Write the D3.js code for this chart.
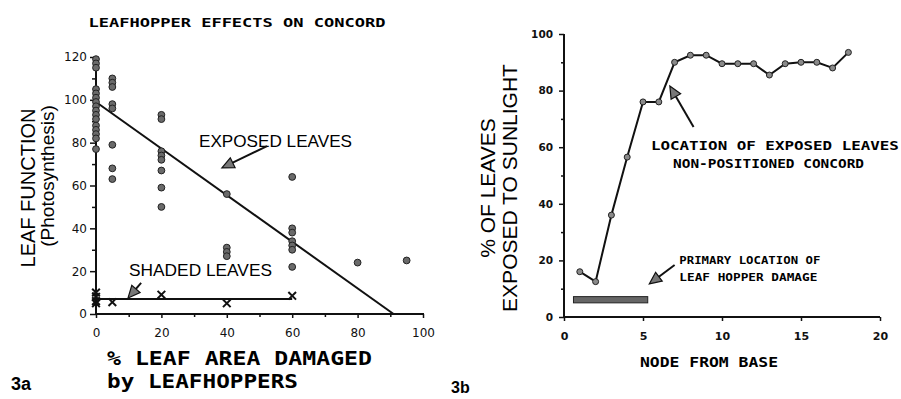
<!DOCTYPE html>
<html>
<head>
<meta charset="utf-8">
<script src="https://cdn.jsdelivr.net/npm/d3@7"></script>
<style>
  body { margin: 0; background: #fff; }
  svg { display: block; }
  .tick line { stroke: #111; stroke-width: 1.5px; }
  .domain { display: none; }
</style>
</head>
<body>
<svg id="chart" width="901" height="399"></svg>
<script>
// ---- fig 3a: leaf function vs % leaf area damaged ----
const exposedDamage = [
    0, 0, 0, 0, 0, 0, 0, 0, 0, 0, 0, 0, 0, 0, 0, 0,
    5, 5, 5, 5, 5, 5, 5, 5,
    20, 20, 20, 20, 20, 20, 20, 20,
    40, 40, 40, 40,
    60, 60, 60, 60, 60, 60, 60,
    80, 95
];
const exposedFunction = [
    119, 117, 115, 105, 103, 101, 99, 97, 95, 93, 91, 88, 86, 84, 82, 77,
    110, 108, 106, 98, 96, 79, 68, 63,
    93, 91, 76, 74, 72, 67, 59, 50,
    56, 31, 29, 27,
    64, 40, 38, 34, 32, 30, 22,
    24, 25
];
const shadedDamage = [0, 0, 0, 0, 5, 20, 40, 60];
const shadedFunction = [10, 8, 6, 5, 5.5, 9, 5, 8.5];
const exposedFit = [[0, 99], [91, 0]];
const shadedFit = [[0, 7], [60, 7]];
const damageTicks = [0, 20, 40, 60, 80, 100];
const functionTicks = [0, 20, 40, 60, 80, 100, 120];

// ---- fig 3b: % leaves exposed vs node ----
const nodes = [1, 2, 3, 4, 5, 6, 7, 8, 9, 10, 11, 12, 13, 14, 15, 16, 17, 18];
const exposedPct = [16, 12.5, 36, 56.5, 76, 76, 90, 92.5, 92.5, 89.5, 89.5, 89.5, 85.5, 89.5, 90, 90, 88, 93.5];
const damageZone = [0.6, 5.3];
const damageZoneLevel = [5, 7.2];
const nodeTicks = [0, 5, 10, 15, 20];
const pctTicks = [0, 20, 40, 60, 80, 100];

const svg = d3.select('#chart');
svg.append('rect').attr('width', 901).attr('height', 399).attr('fill', '#fff');

const monoFont = '"DejaVu Sans Mono", monospace';
const sansFont = '"Liberation Sans", Arial, sans-serif';

// arrow with filled head, tail/tip given in data space
function drawArrow(g, xs, ys, tail, tip) {
    let x1 = xs(tail[0]), y1 = ys(tail[1]),
        x2 = xs(tip[0]), y2 = ys(tip[1]),
        ang = Math.atan2(y2 - y1, x2 - x1),
        len = 12, half = 5.5,
        bx = x2 - len * Math.cos(ang), by = y2 - len * Math.sin(ang);
    g.append('line')
        .attr('x1', x1).attr('y1', y1).attr('x2', bx).attr('y2', by)
        .attr('stroke', '#111').attr('stroke-width', 2);
    g.append('path')
        .attr('d', `M${x2},${y2}L${bx + half * Math.sin(ang)},${by - half * Math.cos(ang)}` +
            `L${bx - half * Math.sin(ang)},${by + half * Math.cos(ang)}Z`)
        .attr('fill', '#777').attr('stroke', '#111').attr('stroke-width', 1.2);
}

function styleTicks(sel, font, size, weight) {
    sel.selectAll('text')
        .attr('font-family', font)
        .attr('font-size', size)
        .attr('font-weight', weight)
        .attr('fill', '#111');
}

// ================= 3a =================
(function () {
    let x = d3.scaleLinear().domain([0, 100]).range([96, 423]),
        y = d3.scaleLinear().domain([0, 120]).range([314, 57]),
        g = svg.append('g');

    // minor ticks
    g.append('g').attr('transform', 'translate(0,314)')
        .call(d3.axisBottom(x).tickValues([10, 30, 50, 70, 90]).tickSize(3).tickFormat(''));
    g.append('g').attr('transform', 'translate(96,0)')
        .call(d3.axisLeft(y).tickValues([10, 30, 50, 70, 90, 110]).tickSize(4).tickFormat(''));

    let xAxis = g.append('g').attr('transform', 'translate(0,314)')
        .call(d3.axisBottom(x).tickValues(damageTicks).tickSize(4).tickPadding(10));
    styleTicks(xAxis, '"DejaVu Sans", sans-serif', 12, 'normal');

    let yAxis = g.append('g').attr('transform', 'translate(96,0)')
        .call(d3.axisLeft(y).tickValues(functionTicks).tickSize(6).tickPadding(3));
    styleTicks(yAxis, '"DejaVu Sans", sans-serif', 12, 'normal');

    // axis lines
    g.append('line').attr('x1', x(0)).attr('x2', x(100) + 1).attr('y1', y(0)).attr('y2', y(0))
        .attr('stroke', '#111').attr('stroke-width', 2);
    g.append('line').attr('x1', x(0)).attr('x2', x(0)).attr('y1', y(0)).attr('y2', y(120))
        .attr('stroke', '#111').attr('stroke-width', 2);

    let line = d3.line().x(d => x(d[0])).y(d => y(d[1]));
    g.append('path').attr('d', line(exposedFit))
        .attr('fill', 'none').attr('stroke', '#111').attr('stroke-width', 2);
    g.append('path').attr('d', line(shadedFit))
        .attr('fill', 'none').attr('stroke', '#111').attr('stroke-width', 2);

    g.selectAll('.exposed')
        .data(exposedDamage)
        .enter()
        .append('circle')
        .attr('class', 'exposed')
        .attr('cx', d => x(d))
        .attr('cy', (d, i) => y(exposedFunction[i]))
        .attr('r', 3.4)
        .attr('fill', '#6a6a6a')
        .attr('stroke', '#222')
        .attr('stroke-width', 1);

    g.selectAll('.shaded')
        .data(shadedDamage)
        .enter()
        .append('path')
        .attr('class', 'shaded')
        .attr('transform', (d, i) => `translate(${x(d)},${y(shadedFunction[i])})`)
        .attr('d', d3.symbol(d3.symbolX, 40))
        .attr('fill', 'none')
        .attr('stroke', '#111')
        .attr('stroke-width', 2);

    // labels
    g.append('text')
        .attr('x', 237).attr('y', 27)
        .attr('text-anchor', 'middle')
        .attr('font-family', monoFont).attr('font-weight', 'bold').attr('font-size', 13)
        .attr('textLength', 297).attr('lengthAdjust', 'spacingAndGlyphs')
        .text('LEAFHOPPER EFFECTS ON CONCORD');

    g.append('text')
        .attr('transform', 'translate(35,188) rotate(-90)')
        .attr('text-anchor', 'middle')
        .attr('font-family', sansFont).attr('font-size', 20)
        .text('LEAF FUNCTION');
    g.append('text')
        .attr('transform', 'translate(54,176) rotate(-90)')
        .attr('text-anchor', 'middle')
        .attr('font-family', sansFont).attr('font-size', 19)
        .text('(Photosynthesis)');

    g.append('text')
        .attr('x', 107).attr('y', 365)
        .attr('font-family', monoFont).attr('font-weight', 'bold').attr('font-size', 20)
        .attr('textLength', 265).attr('lengthAdjust', 'spacingAndGlyphs')
        .text('% LEAF AREA DAMAGED');
    g.append('text')
        .attr('x', 107).attr('y', 388)
        .attr('font-family', monoFont).attr('font-weight', 'bold').attr('font-size', 20)
        .attr('textLength', 191).attr('lengthAdjust', 'spacingAndGlyphs')
        .text('by LEAFHOPPERS');
    g.append('text')
        .attr('x', 11).attr('y', 390)
        .attr('font-family', sansFont).attr('font-weight', 'bold').attr('font-size', 18)
        .text('3a');

    g.append('text')
        .attr('x', x(31.5)).attr('y', y(78))
        .attr('font-family', sansFont).attr('font-size', 17)
        .attr('textLength', 153).attr('lengthAdjust', 'spacingAndGlyphs')
        .text('EXPOSED LEAVES');
    drawArrow(g, x, y, [52.3, 78.4], [38.5, 68.2]);

    g.append('text')
        .attr('x', x(10.1)).attr('y', y(17.7))
        .attr('font-family', sansFont).attr('font-size', 17)
        .attr('textLength', 143).attr('lengthAdjust', 'spacingAndGlyphs')
        .text('SHADED LEAVES');
    drawArrow(g, x, y, [13.8, 14.5], [9.8, 7.5]);
})();

// ================= 3b =================
(function () {
    let x = d3.scaleLinear().domain([0, 20]).range([564, 880]),
        y = d3.scaleLinear().domain([0, 100]).range([317, 34]),
        g = svg.append('g');

    g.append('g').attr('transform', 'translate(564,0)')
        .call(d3.axisLeft(y).tickValues([10, 30, 50, 70, 90]).tickSize(3).tickFormat(''));

    let xAxis = g.append('g').attr('transform', 'translate(0,317)')
        .call(d3.axisBottom(x).tickValues(nodeTicks).tickSize(4).tickPadding(11));
    styleTicks(xAxis, '"DejaVu Sans", sans-serif', 11, 'bold');

    let yAxis = g.append('g').attr('transform', 'translate(564,0)')
        .call(d3.axisLeft(y).tickValues(pctTicks).tickSize(5).tickPadding(6));
    styleTicks(yAxis, '"DejaVu Sans", sans-serif', 10.5, 'bold');

    g.append('line').attr('x1', x(0)).attr('x2', x(20)).attr('y1', y(0)).attr('y2', y(0))
        .attr('stroke', '#111').attr('stroke-width', 2);
    g.append('line').attr('x1', x(0)).attr('x2', x(0)).attr('y1', y(0)).attr('y2', y(100))
        .attr('stroke', '#111').attr('stroke-width', 2);

    g.append('rect')
        .attr('x', x(damageZone[0]))
        .attr('y', y(damageZoneLevel[1]))
        .attr('width', x(damageZone[1]) - x(damageZone[0]))
        .attr('height', y(damageZoneLevel[0]) - y(damageZoneLevel[1]))
        .attr('fill', '#666')
        .attr('stroke', '#222')
        .attr('stroke-width', 1);

    let line = d3.line().x((d, i) => x(nodes[i])).y(d => y(d));
    g.append('path').attr('d', line(exposedPct))
        .attr('fill', 'none').attr('stroke', '#111').attr('stroke-width', 2);

    g.selectAll('.node')
        .data(exposedPct)
        .enter()
        .append('circle')
        .attr('class', 'node')
        .attr('cx', (d, i) => x(nodes[i]))
        .attr('cy', d => y(d))
        .attr('r', 3)
        .attr('fill', '#8a8a8a')
        .attr('stroke', '#222')
        .attr('stroke-width', 1);

    g.append('text')
        .attr('transform', 'translate(495,188) rotate(-90)')
        .attr('text-anchor', 'middle')
        .attr('font-family', sansFont).attr('font-size', 21)
        .text('% OF LEAVES');
    g.append('text')
        .attr('transform', 'translate(517,188) rotate(-90)')
        .attr('text-anchor', 'middle')
        .attr('font-family', sansFont).attr('font-size', 21)
        .text('EXPOSED TO SUNLIGHT');

    g.append('text')
        .attr('x', 640).attr('y', 367)
        .attr('font-family', monoFont).attr('font-weight', 'bold').attr('font-size', 14)
        .attr('textLength', 138).attr('lengthAdjust', 'spacingAndGlyphs')
        .text('NODE FROM BASE');
    g.append('text')
        .attr('x', 451).attr('y', 393)
        .attr('font-family', sansFont).attr('font-weight', 'bold').attr('font-size', 16)
        .text('3b');

    g.append('text')
        .attr('x', x(5.5)).attr('y', y(59))
        .attr('font-family', monoFont).attr('font-weight', 'bold').attr('font-size', 12)
        .attr('textLength', 248).attr('lengthAdjust', 'spacingAndGlyphs')
        .text('LOCATION OF EXPOSED LEAVES');
    g.append('text')
        .attr('x', x(6.9)).attr('y', y(52.7))
        .attr('font-family', monoFont).attr('font-weight', 'bold').attr('font-size', 12)
        .attr('textLength', 191).attr('lengthAdjust', 'spacingAndGlyphs')
        .text('NON-POSITIONED CONCORD');
    drawArrow(g, x, y, [8.2, 67.1], [6.7, 81.6]);

    g.append('text')
        .attr('x', x(7.3)).attr('y', y(18.7))
        .attr('font-family', monoFont).attr('font-weight', 'bold').attr('font-size', 11)
        .attr('textLength', 141).attr('lengthAdjust', 'spacingAndGlyphs')
        .text('PRIMARY LOCATION OF');
    g.append('text')
        .attr('x', x(7.3)).attr('y', y(12.7))
        .attr('font-family', monoFont).attr('font-weight', 'bold').attr('font-size', 11)
        .attr('textLength', 138).attr('lengthAdjust', 'spacingAndGlyphs')
        .text('LEAF HOPPER DAMAGE');
    drawArrow(g, x, y, [7.0, 18.4], [5.4, 11.7]);
})();
</script>
</body>
</html>
